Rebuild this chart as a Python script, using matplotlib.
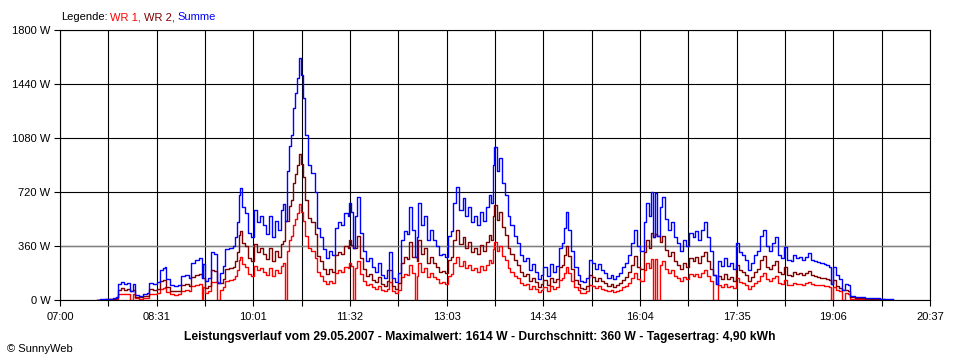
import matplotlib
matplotlib.use("Agg")
import matplotlib.pyplot as plt

plt.rcParams['font.family'] = ['Liberation Sans', 'DejaVu Sans']

# Messzeitpunkte
zeit = [
    "07:35", "07:38", "07:42", "07:46", "07:50", "07:53", "07:54", "07:57", "08:00", "08:03",
    "08:06", "08:09", "08:10", "08:14", "08:18", "08:22", "08:24", "08:27", "08:31", "08:34",
    "08:37", "08:39", "08:40", "08:43", "08:47", "08:51", "08:54", "08:57", "09:01", "09:03",
    "09:07", "09:11", "09:13", "09:14", "09:16", "09:19", "09:22", "09:25", "09:27", "09:28",
    "09:30", "09:33", "09:35", "09:39", "09:42", "09:44", "09:46", "09:48", "09:49", "09:51",
    "09:54", "09:57", "09:59", "10:02", "10:05", "10:08", "10:11", "10:13", "10:16", "10:19",
    "10:22", "10:25", "10:28", "10:29", "10:31", "10:33", "10:35", "10:37", "10:39", "10:41",
    "10:43", "10:44", "10:46", "10:48", "10:50", "10:53", "10:56", "10:59", "11:01", "11:04",
    "11:07", "11:10", "11:13", "11:15", "11:18", "11:21", "11:24", "11:27", "11:30", "11:31",
    "11:33", "11:35", "11:37", "11:39", "11:42", "11:45", "11:47", "11:50", "11:53", "11:56",
    "11:59", "12:01", "12:04", "12:07", "12:09", "12:12", "12:15", "12:17", "12:20", "12:23",
    "12:26", "12:28", "12:31", "12:33", "12:35", "12:36", "12:39", "12:42", "12:45", "12:47",
    "12:50", "12:53", "12:56", "12:59", "13:02", "13:04", "13:07", "13:09", "13:12", "13:15",
    "13:18", "13:20", "13:23", "13:26", "13:29", "13:32", "13:34", "13:37", "13:40", "13:43",
    "13:45", "13:47", "13:48", "13:50", "13:52", "13:55", "13:58", "14:01", "14:03", "14:06",
    "14:09", "14:12", "14:15", "14:18", "14:20", "14:23", "14:26", "14:29", "14:32", "14:34",
    "14:37", "14:40", "14:43", "14:46", "14:49", "14:51", "14:53", "14:55", "14:57", "15:00",
    "15:03", "15:06", "15:08", "15:11", "15:14", "15:17", "15:20", "15:22", "15:25", "15:28",
    "15:31", "15:34", "15:37", "15:39", "15:42", "15:45", "15:48", "15:51", "15:53", "15:56",
    "15:59", "16:02", "16:05", "16:08", "16:10", "16:13", "16:15", "16:17", "16:19", "16:21",
    "16:23", "16:25", "16:28", "16:31", "16:34", "16:37", "16:39", "16:42", "16:45", "16:48",
    "16:51", "16:54", "16:56", "16:59", "17:02", "17:05", "17:08", "17:10", "17:13", "17:16",
    "17:18", "17:21", "17:24", "17:26", "17:29", "17:32", "17:35", "17:38", "17:40", "17:43",
    "17:46", "17:49", "17:52", "17:55", "17:57", "18:00", "18:03", "18:06", "18:09", "18:11",
    "18:14", "18:17", "18:20", "18:23", "18:26", "18:28", "18:31", "18:34", "18:37", "18:40",
    "18:42", "18:45", "18:48", "18:51", "18:54", "18:57", "18:59", "19:02", "19:04", "19:06",
    "19:09", "19:12", "19:14", "19:17", "19:20", "19:22", "19:27", "19:31", "19:36", "19:41",
    "19:45", "19:50", "19:55", "20:02",
]

# Leistung WR 1 in W
wr1 = [
    0, 2, 3, 4, 5, 7, 40, 42, 38, 42,
    0, 40, 12, 10, 14, 16, 42, 40, 44, 75,
    82, 85, 52, 38, 36, 38, 60, 65, 57, 95,
    102, 106, 0, 90, 50, 57, 122, 118, 0, 0,
    68, 88, 130, 134, 138, 160, 198, 265, 285, 237,
    222, 172, 160, 228, 198, 212, 190, 168, 213, 160,
    200, 180, 228, 245, 0, 330, 400, 430, 500, 540,
    580, 640, 590, 530, 430, 350, 330, 280, 185, 160,
    130, 105, 126, 114, 182, 198, 190, 220, 213, 248,
    225, 0, 213, 262, 171, 125, 100, 106, 84, 72,
    95, 65, 57, 76, 122, 57, 46, 68, 152, 175,
    167, 236, 180, 0, 160, 247, 190, 213, 152, 180,
    152, 137, 114, 118, 110, 163, 175, 247, 287, 228,
    258, 213, 236, 198, 213, 190, 224, 201, 236, 266,
    247, 342, 388, 327, 361, 296, 266, 213, 190, 163,
    144, 114, 99, 106, 76, 91, 72, 53, 65, 84,
    61, 91, 72, 87, 133, 144, 182, 222, 179, 125,
    84, 65, 50, 46, 57, 103, 93, 80, 91, 76,
    68, 57, 65, 53, 61, 68, 84, 93, 114, 144,
    179, 137, 125, 198, 247, 213, 274, 0, 272, 0,
    236, 262, 205, 179, 198, 160, 144, 125, 152, 137,
    171, 160, 175, 152, 179, 198, 160, 125, 0, 0,
    99, 87, 106, 87, 95, 80, 144, 122, 114, 103,
    76, 95, 114, 125, 163, 179, 137, 125, 144, 160,
    114, 106, 135, 103, 99, 114, 106, 110, 103, 112,
    120, 105, 102, 100, 98, 95, 92, 88, 0, 85,
    70, 60, 0, 45, 40, 10, 8, 8, 5, 5,
    5, 3, 2, 2,
]

# Leistung WR 2 in W
wr2 = [
    0, 3, 5, 6, 10, 13, 70, 78, 67, 73,
    62, 70, 23, 20, 26, 29, 73, 70, 76, 125,
    133, 135, 88, 62, 59, 62, 100, 105, 93, 155,
    168, 174, 150, 150, 80, 93, 198, 192, 120, 115,
    112, 142, 210, 216, 222, 260, 322, 435, 460, 383,
    358, 278, 260, 372, 322, 348, 310, 272, 347, 260,
    330, 290, 372, 395, 530, 530, 630, 670, 780, 840,
    900, 974, 910, 820, 670, 550, 520, 440, 295, 260,
    210, 175, 204, 186, 298, 322, 310, 360, 347, 402,
    365, 350, 347, 428, 279, 205, 160, 174, 136, 118,
    155, 105, 93, 124, 198, 93, 74, 112, 248, 285,
    273, 384, 290, 290, 260, 403, 310, 347, 248, 290,
    248, 223, 186, 192, 180, 267, 285, 403, 468, 372,
    422, 347, 384, 322, 347, 310, 366, 329, 384, 434,
    403, 558, 632, 533, 589, 484, 434, 347, 310, 267,
    236, 186, 161, 174, 124, 149, 118, 87, 105, 136,
    99, 149, 118, 143, 217, 236, 298, 363, 291, 205,
    136, 105, 80, 74, 93, 167, 152, 130, 149, 124,
    112, 93, 105, 87, 99, 112, 136, 152, 186, 236,
    291, 223, 205, 322, 403, 347, 446, 420, 443, 430,
    384, 428, 335, 291, 322, 260, 236, 205, 248, 223,
    279, 260, 285, 248, 291, 322, 260, 205, 170, 110,
    161, 143, 174, 143, 155, 130, 236, 198, 186, 167,
    124, 155, 186, 205, 267, 291, 223, 205, 236, 260,
    186, 174, 220, 167, 161, 186, 174, 180, 167, 178,
    195, 165, 160, 155, 150, 145, 140, 132, 110, 135,
    95, 80, 70, 65, 60, 17, 12, 12, 8, 7,
    7, 5, 3, 2,
]

x_labels = ["07:00", "08:31", "10:01", "11:32", "13:03", "14:34", "16:04", "17:35", "19:06", "20:37"]
y_werte = [0, 360, 720, 1080, 1440, 1800]
durchschnitt = 360

titel = ("Leistungsverlauf vom 29.05.2007 - Maximalwert: 1614 W - "
         "Durchschnitt: 360 W - Tagesertrag: 4,90 kWh")


def minuten(s):
    h, m = s.split(":")
    return (int(h) - 7) * 60 + int(m)


t = [minuten(z) for z in zeit]
summe = [a + b for a, b in zip(wr1, wr2)]
ende = minuten(x_labels[-1])

fig = plt.figure(figsize=(9.6, 3.6), dpi=100)
ax = fig.add_axes([60 / 960, 60 / 360, 870 / 960, 270 / 360])
ax.set_xlim(0, ende)
ax.set_ylim(0, 1800)

ax.step(t, wr1, where='post', color='#ff0000', lw=1.0, zorder=3)
ax.step(t, wr2, where='post', color='#800000', lw=1.0, zorder=3)
ax.step(t, summe, where='post', color='#0000ff', lw=1.0, zorder=4)

# Achsen / Gitter
ax.set_xticks([ende * k / 9 for k in range(10)])
ax.set_xticks([ende * (2 * k + 1) / 18 for k in range(9)], minor=True)
ax.set_xticklabels(x_labels)
ax.set_yticks(y_werte)
ax.set_yticklabels([f"{v} W" for v in y_werte])
ax.grid(which='both', axis='x', color='black', lw=0.8)
ax.grid(which='major', axis='y', color='black', lw=0.8)
ax.axhline(durchschnitt, color='#808080', lw=1.0, zorder=2)
ax.tick_params(which='both', direction='out', length=4, width=0.8, labelsize=8)
ax.tick_params(axis='x', pad=5)
ax.tick_params(axis='y', pad=3)
for s in ax.spines.values():
    s.set_linewidth(0.8)

# Legende oben
t0 = fig.text(61 / 960, 1 - 17 / 360, "Legende:", fontsize=8, va='center')
t1 = ax.annotate("WR 1,", xy=(1, 0), xycoords=t0, xytext=(2, 0), textcoords='offset points',
                 va='bottom', fontsize=8, color='#ff0000', annotation_clip=False)
t2 = ax.annotate("WR 2,", xy=(1, 0), xycoords=t1, xytext=(2, 0), textcoords='offset points',
                 va='bottom', fontsize=8, color='#800000', annotation_clip=False)
ax.annotate("Summe", xy=(1, 0), xycoords=t2, xytext=(2, 0), textcoords='offset points',
            va='bottom', fontsize=8, color='#0000ff', annotation_clip=False)

fig.text(0.5, 1 - 337 / 360, titel, fontsize=8.7, fontweight='bold', ha='center', va='center')
fig.text(7 / 960, 1 - 349 / 360, "© SunnyWeb", fontsize=8, va='center')

fig.savefig("out.png", dpi=100)
